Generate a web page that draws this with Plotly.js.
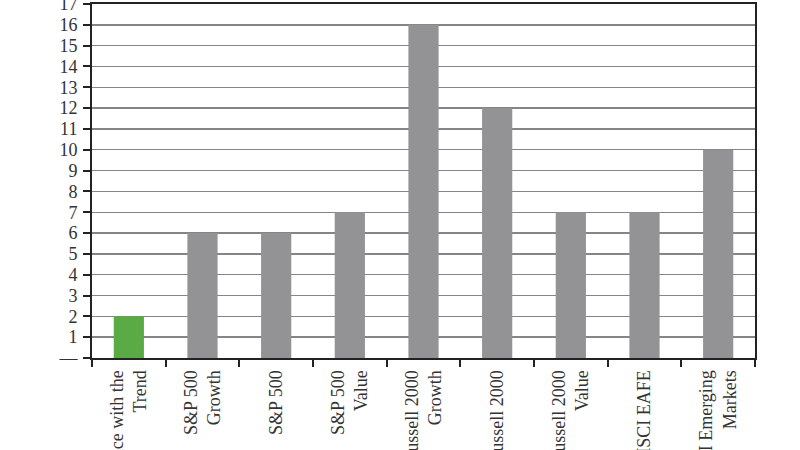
<!DOCTYPE html>
<html>
<head>
<meta charset="utf-8">
<script src="https://cdn.plot.ly/plotly-3.0.1.min.js"></script>
<style>html,body{margin:0;padding:0;background:#fff;}#chart{width:800px;height:450px;}</style>
</head>
<body>
<div id="chart"></div>
<script>
const categories = [
  "Dance with the<br>Trend",
  "S&P 500<br>Growth",
  "S&P 500",
  "S&P 500<br>Value",
  "Russell 2000<br>Growth",
  "Russell 2000",
  "Russell 2000<br>Value",
  "MSCI EAFE",
  "MSCI Emerging<br>Markets"
];
const values = [2, 6, 6, 7, 16, 12, 7, 7, 10];
const barColors = ["#5aab45", "#939396", "#939396", "#939396", "#939396", "#939396", "#939396", "#939396", "#939396"];
const yTickVals = [0,1,2,3,4,5,6,7,8,9,10,11,12,13,14,15,16,17];
const yTickText = ["—","1","2","3","4","5","6","7","8","9","10","11","12","13","14","15","16","17"];

const trace = {
  type: "bar",
  x: categories,
  y: values,
  marker: {color: barColors, line: {width: 0}},
  hoverinfo: "skip"
};

const layout = {
  width: 800,
  height: 450,
  margin: {l: 92, r: 45, t: 4, b: 92, pad: 0},
  paper_bgcolor: "#ffffff",
  plot_bgcolor: "#ffffff",
  bargap: 0.59,
  showlegend: false,
  font: {family: "Liberation Serif, Times New Roman, serif", size: 18, color: "#333333"},
  xaxis: {
    type: "category",
    showline: true,
    linecolor: "#222222",
    linewidth: 2,
    mirror: true,
    ticks: "outside",
    tickson: "boundaries",
    ticklen: 7,
    tickwidth: 2,
    tickcolor: "#222222",
    tickangle: -90,
    showgrid: false,
    ticklabeloverflow: "allow",
    ticklabelstandoff: 3,
    tickfont: {family: "Liberation Serif, Times New Roman, serif", size: 18, color: "#333333"},
    fixedrange: true
  },
  yaxis: {
    range: [0, 17],
    tickmode: "array",
    tickvals: yTickVals,
    ticktext: yTickText,
    showline: true,
    linecolor: "#222222",
    linewidth: 2,
    mirror: true,
    ticks: "outside",
    ticklen: 7,
    tickwidth: 2,
    tickcolor: "#222222",
    showgrid: true,
    gridcolor: "#858585",
    gridwidth: 1.4,
    zeroline: false,
    ticklabelstandoff: 2,
    ticklabeloverflow: "allow",
    tickfont: {family: "Liberation Serif, Times New Roman, serif", size: 18, color: "#333333"},
    fixedrange: true
  }
};

Plotly.newPlot("chart", [trace], layout, {displayModeBar: false, staticPlot: true});
</script>
</body>
</html>
